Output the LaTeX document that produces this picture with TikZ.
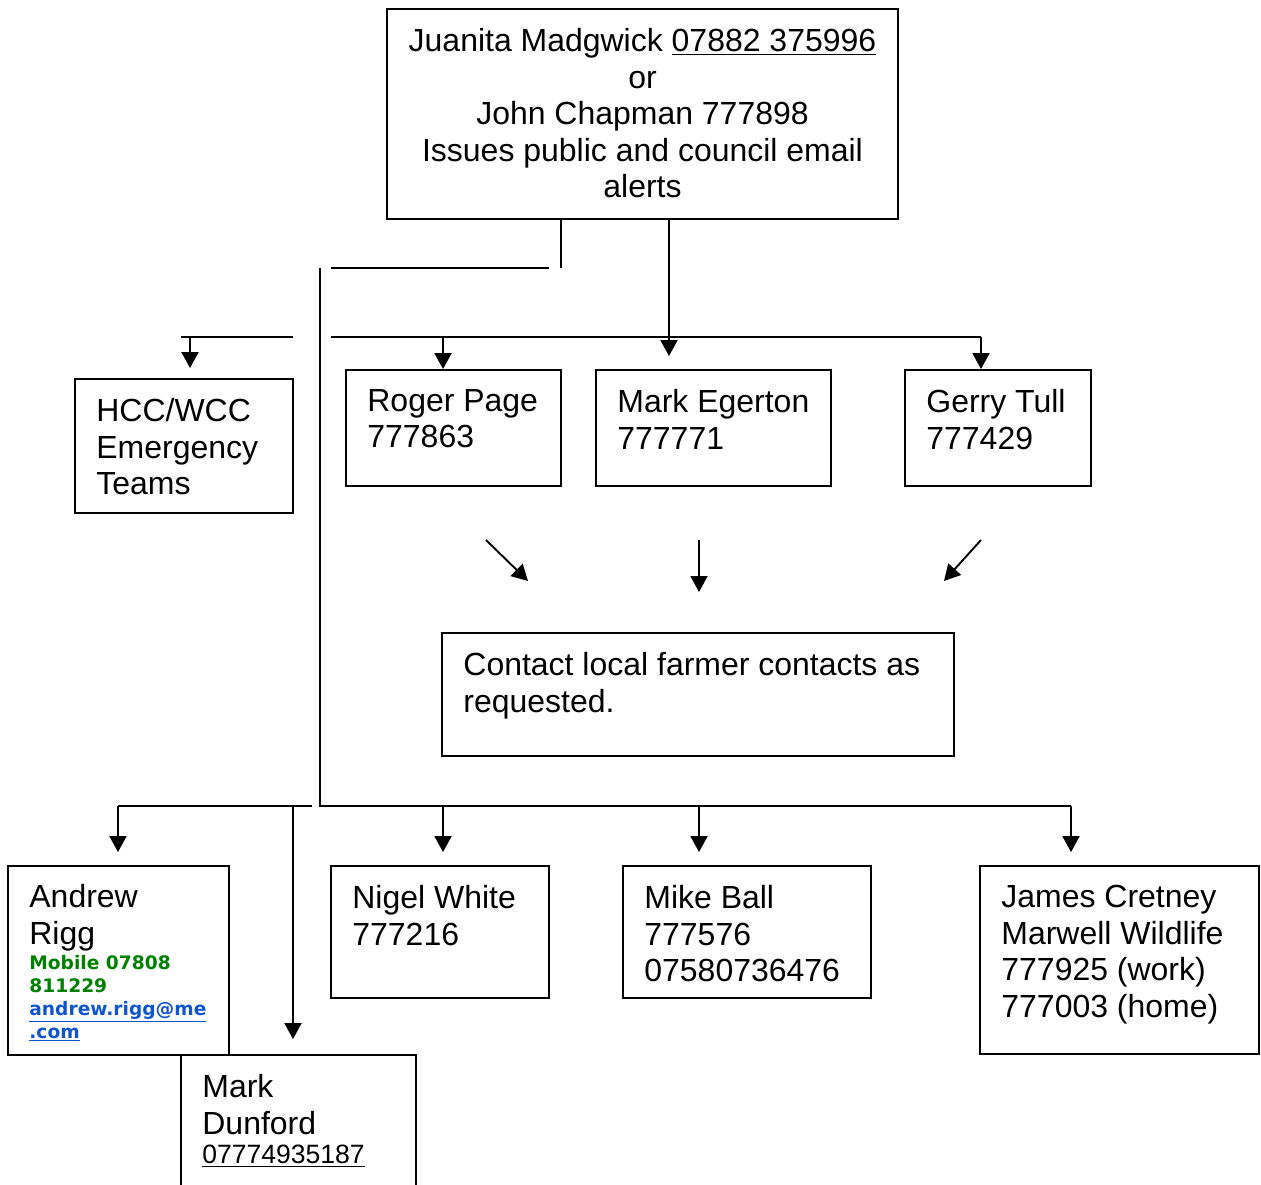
\documentclass[tikz,border=0pt]{standalone}
\usepackage{fontspec}
\setmainfont{Liberation Sans}
\newfontfamily\linkfont{DejaVu Sans}
\usetikzlibrary{arrows.meta}

\definecolor{mobgreen}{RGB}{0,128,0}
\definecolor{linkblue}{RGB}{17,85,204}

\tikzset{
  box/.style={draw, line width=1.1pt, inner sep=0pt},
  lbl/.style={anchor=north west, inner sep=0pt, align=left, font=\fontsize{18.2}{20.8}\selectfont},
  line/.style={line width=1.1pt},
  arr/.style={line width=1.1pt, -{Triangle[length=0.32cm, width=0.34cm]}},
}

\begin{document}
\begin{tikzpicture}[x=0.02cm, y=-0.02cm]
    \useasboundingbox (0,0) rectangle (1261,1185);
    \clip (0,0) rectangle (1261,1185);

    % Top box - who issues the alerts
    \node[box, minimum width=10.22cm, minimum height=4.2cm] (top) at (642.5,114) {};
    \node[lbl, anchor=north, align=center] (toptext) at ([yshift=-0.4cm]top.north) {Juanita Madgwick \underline{07882 375996}\\or\\John Chapman 777898\\Issues public and council email\\alerts};

    % Emergency teams box
    \node[box, minimum width=4.36cm, minimum height=2.68cm] (hcc) at (184,446) {};
    \node[lbl] (hcctext) at ([xshift=0.44cm, yshift=-0.4cm]hcc.north west) {HCC/WCC\\Emergency\\Teams};

    % Middle row of contacts
    \node[box, minimum width=4.3cm, minimum height=2.32cm] (roger) at (453.5,428) {};
    \node[lbl] (rogertext) at ([xshift=0.44cm, yshift=-0.4cm]roger.north west) {Roger Page\\777863};

    \node[box, minimum width=4.7cm, minimum height=2.32cm] (egerton) at (713.5,428) {};
    \node[lbl] (egertontext) at ([xshift=0.44cm, yshift=-0.4cm]egerton.north west) {Mark Egerton\\777771};

    \node[box, minimum width=3.72cm, minimum height=2.32cm] (tull) at (998,428) {};
    \node[lbl] (tulltext) at ([xshift=0.44cm, yshift=-0.4cm]tull.north west) {Gerry Tull\\777429};

    % Farmer contacts box
    \node[box, minimum width=10.24cm, minimum height=2.46cm] (contact) at (698,694.5) {};
    \node[lbl] (contacttext) at ([xshift=0.44cm, yshift=-0.4cm]contact.north west) {Contact local farmer contacts as\\requested.};

    % Bottom row of contacts
    \node[box, minimum width=4.42cm, minimum height=3.78cm] (rigg) at (118.5,960.5) {};
    \node[lbl] (riggtext) at ([xshift=0.44cm, yshift=-0.38cm]rigg.north west) {Andrew\\Rigg};
    \node[lbl, font=\linkfont\bfseries\fontsize{10.6}{13}\selectfont] (riggmore) at ([xshift=0.44cm, yshift=-1.8cm]rigg.north west) {\textcolor{mobgreen}{Mobile 07808}\\\textcolor{mobgreen}{811229}\\\textcolor{linkblue}{\underline{andrew.rigg@me}}\\\textcolor{linkblue}{\underline{.com}}};

    \node[box, minimum width=4.7cm, minimum height=3.2cm] (dunford) at (298.5,1135) {};
    \node[lbl] (dunfordtext) at ([xshift=0.44cm, yshift=-0.4cm]dunford.north west) {Mark\\Dunford};
    \node[lbl, font=\fontsize{15.1}{17}\selectfont] (dunfordnum) at ([xshift=0.44cm, yshift=-1.82cm]dunford.north west) {\underline{07774935187}};

    \node[box, minimum width=4.36cm, minimum height=2.64cm] (nigel) at (440,932) {};
    \node[lbl] (nigeltext) at ([xshift=0.44cm, yshift=-0.4cm]nigel.north west) {Nigel White\\777216};

    \node[box, minimum width=4.96cm, minimum height=2.64cm] (ball) at (747,932) {};
    \node[lbl] (balltext) at ([xshift=0.44cm, yshift=-0.4cm]ball.north west) {Mike Ball\\777576\\07580736476};

    \node[box, minimum width=5.58cm, minimum height=3.76cm] (cretney) at (1119.5,960) {};
    \node[lbl] (cretneytext) at ([xshift=0.44cm, yshift=-0.4cm]cretney.north west) {James Cretney\\Marwell Wildlife\\777925 (work)\\777003 (home)};

    % Branch down the left side
    \coordinate (drop) at (561,268);
    \coordinate (gapl) at (331,268);
    \coordinate (gapr) at (549,268);
    \coordinate (trunk) at (320,268);
    \coordinate (corner) at (320,806);
    \coordinate (busend) at (1071,806);
    \draw[line] (top.south -| drop) -- (drop);
    \draw[line] (gapl) -- (gapr);
    \draw[line] (trunk) -- (corner) -- (busend);

    % Bottom bus
    \coordinate (b1) at (443,806);
    \coordinate (b2) at (699,806);
    \draw[arr, shorten >=0.26cm] (b1) -- (b1 |- nigel.north);
    \draw[arr, shorten >=0.26cm] (b2) -- (b2 |- ball.north);
    \draw[arr, shorten >=0.26cm] (busend) -- (busend |- cretney.north);

    \coordinate (lbusl) at (118,806);
    \coordinate (lbusr) at (312,806);
    \coordinate (ddrop) at (293,806);
    \draw[line] (lbusl) -- (lbusr);
    \draw[arr, shorten >=0.26cm] (lbusl) -- (lbusl |- rigg.north);
    \draw[arr, shorten >=0.3cm] (ddrop) -- (ddrop |- dunford.north);

    % Middle bus
    \coordinate (mbusl) at (331,337);
    \coordinate (mbusr) at (981,337);
    \coordinate (rdrop) at (443,337);
    \coordinate (edrop) at (669,337);
    \draw[line] (mbusl) -- (mbusr);
    \draw[arr] (rdrop) -- (rdrop |- roger.north);
    \draw[arr] (mbusr) -- (mbusr |- tull.north);
    \draw[arr, shorten >=0.26cm] (top.south -| edrop) -- (edrop |- egerton.north);

    \coordinate (kbusl) at (181,337);
    \coordinate (kbusr) at (293,337);
    \coordinate (kdrop) at (190,337);
    \draw[line] (kbusl) -- (kbusr);
    \draw[arr, shorten >=0.2cm] (kdrop) -- (kdrop |- hcc.north);

    % Arrows towards the farmer contacts box
    \coordinate (da1s) at (486,540);
    \coordinate (da1e) at (528,581);
    \coordinate (da2s) at (699,540);
    \coordinate (da2e) at (699,592);
    \coordinate (da3s) at (981,540);
    \coordinate (da3e) at (944,581);
    \draw[arr] (da1s) -- (da1e);
    \draw[arr] (da2s) -- (da2e);
    \draw[arr] (da3s) -- (da3e);
\end{tikzpicture}
\end{document}
